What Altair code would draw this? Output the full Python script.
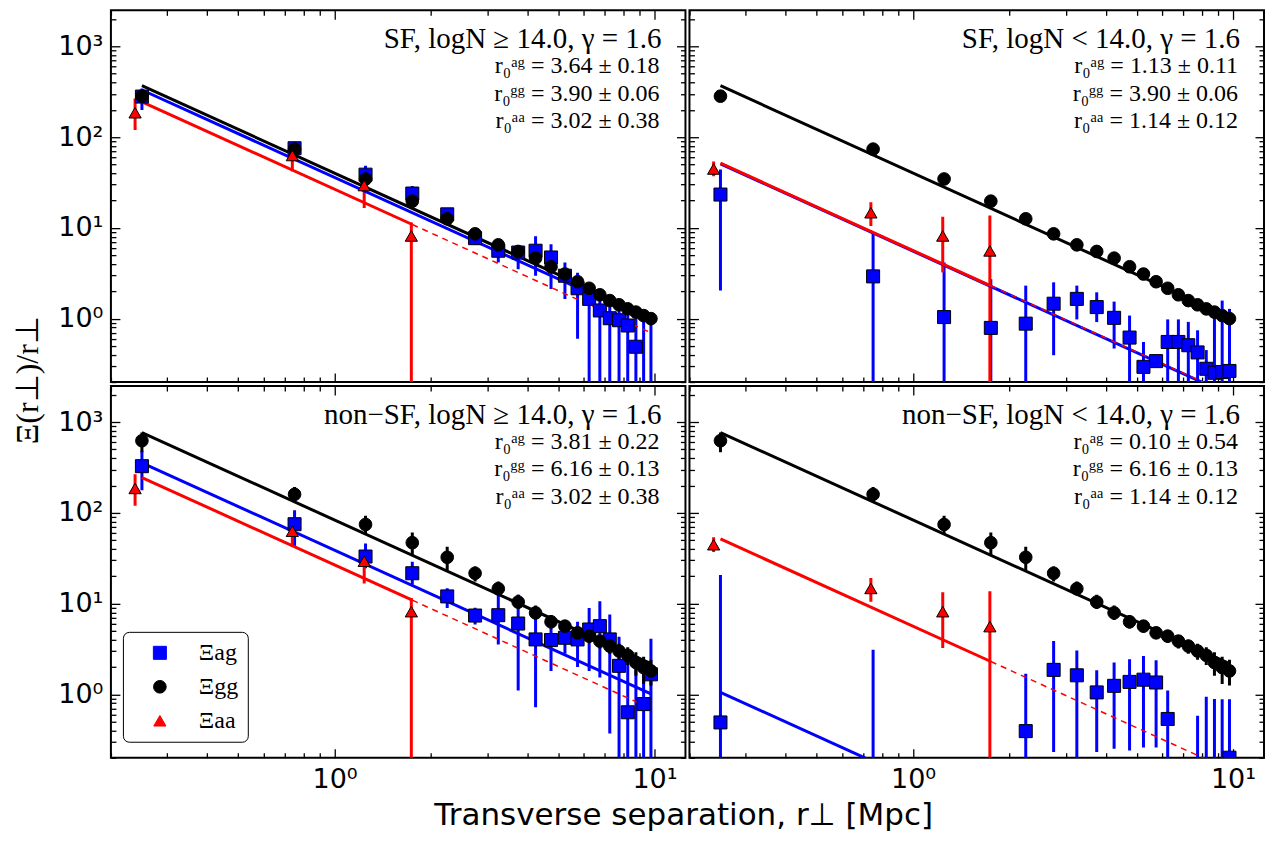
import altair as alt
import pandas as pd

# ---------------- data ----------------
SERIES = ["Ξag", "Ξgg", "Ξaa"]
COLORS = ["#0000ff", "#000000", "#ff0000"]
SHAPES = ["square", "circle", "triangle-up"]
SIZES = [170, 150, 190]

X = [0.25, 0.75, 1.25, 1.75, 2.25, 2.75, 3.25, 3.75, 4.25, 4.75,
     5.25, 5.75, 6.25, 6.75, 7.25, 7.75, 8.25, 8.75, 9.25, 9.75]
X_AA = [0.238, 0.738, 1.238, 1.738]

# galaxy-galaxy (SF sample, top row)
GG_SF_Y = [283, 73.8, 34.6, 19.7, 12.6, 8.6, 6.5, 5.5, 4.64, 3.73, 3.1, 2.55, 2.16, 1.83, 1.58, 1.42, 1.28, 1.18, 1.08, 1.0]
GG_SF_LO = [265, 69, 32.5, 18.5, 11.9, 8.1, 6.1, 5.15, 4.35, 3.5, 2.9, 2.38, 2.02, 1.71, 1.48, 1.33, 1.2, 1.1, 1.01, 0.93]
GG_SF_HI = [301, 78.6, 36.7, 20.9, 13.3, 9.1, 6.9, 5.85, 4.93, 3.96, 3.3, 2.72, 2.3, 1.95, 1.68, 1.51, 1.36, 1.26, 1.15, 1.07]

# galaxy-galaxy (non-SF sample, bottom row)
GG_NSF_Y = [624, 160, 74.5, 46.9, 32.4, 21.6, 14.6, 10.4, 7.9, 6.3, 5.64, 4.76, 4.38, 3.86, 3.4, 3.0, 2.69, 2.24, 1.97, 1.81]
GG_NSF_LO = [466, 132, 59.3, 34.3, 23.5, 17.5, 12.3, 8.7, 6.6, 5.3, 4.8, 4.1, 3.7, 3.2, 2.8, 2.4, 2.1, 1.6, 1.3, 1.25]
GG_NSF_HI = [771, 193, 92.7, 60.8, 42.4, 25.6, 17.5, 12.5, 9.5, 7.5, 6.5, 5.5, 5.0, 4.5, 4.0, 3.6, 3.3, 2.9, 2.6, 2.4]

# absorber-absorber
AA_HIGH_Y = [186, 62.8, 29.3, 8.15]
AA_HIGH_LO = [120, 42, 16.6, 0.01]
AA_HIGH_HI = [267, 82, 37, 11.5]
AA_LOW_Y = [44.6, 14.7, 8.15, 5.58]
AA_LOW_LO = [37, 10.5, 3.23, 0.01]
AA_LOW_HI = [54, 19.2, 13.3, 13.7]

# absorber-galaxy, one set per panel
AG_TL_Y = [280, 75.5, 38.6, 23.9, 14.1, 7.7, 5.6, 5.35, 5.6, 4.72, 2.97, 2.16, 1.65, 1.23, 1.01, 0.96, 0.84, 0.49, 0.1, 0.1]
AG_TL_LO = [199, 65, 31, 19, 12, 6.6, 4.16, 3.5, 2.97, 2.12, 1.65, 0.6, 0.01, 0.01, 0.01, 0.01, 0.01, 0.01, 0.01, 0.01]
AG_TL_HI = [343, 89, 48.5, 29, 16.5, 9, 7.5, 6.3, 8.1, 6.6, 4.16, 3.2, 2.31, 1.9, 1.7, 1.6, 1.5, 1.1, 1.0, 1.0]

AG_TR_Y = [23.3, 2.92, 1.04, 0.79, 0.88, 1.46, 1.65, 1.34, 1.02, 0.618, 0.294, 0.34, 0.553, 0.553, 0.509, 0.424, 0.28, 0.253, 0.258, 0.265]
AG_TR_LO = [2.04, 0.01, 0.01, 0.01, 0.01, 0.395, 0.98, 0.916, 0.468, 0.01, 0.01, 0.29, 0.01, 0.01, 0.01, 0.01, 0.01, 0.01, 0.01, 0.01]
AG_TR_HI = [43.9, 8.87, 4.16, 2.72, 2.31, 2.51, 2.31, 1.95, 1.54, 1.08, 0.553, 0.4, 0.98, 0.98, 0.92, 0.743, 0.45, 1.08, 1.58, 1.28]

AG_BL_Y = [327, 75, 33, 21.6, 12.0, 7.38, 7.45, 6.03, 4.03, 3.96, 4.2, 4.03, 5.18, 5.64, 4.03, 2.06, 0.634, 0.1, 0.78, 1.66]
AG_BL_LO = [177, 42.4, 24.5, 16.1, 8.95, 5.9, 3.55, 1.1, 0.72, 1.81, 2.8, 2.0, 1.81, 1.53, 0.37, 0.01, 0.01, 0.01, 0.01, 0.01]
AG_BL_HI = [485, 107, 46, 29, 14.8, 9, 13.6, 12.5, 8.2, 6.7, 5.4, 6.3, 8.95, 10.6, 7.6, 4.3, 2.6, 2.5, 1.9, 4.1]

AG_BR_Y = [0.49, 0.1, None, None, 0.393, 1.86, 1.62, 1.05, 1.24, 1.37, 1.45, 1.35, 0.535, None, None, 0.1, 0.1, 0.1, 0.1, 0.2]
AG_BR_LO = [0.01, 0.01, None, None, 0.01, 0.231, 0.01, 0.231, 0.251, 0.24, 0.26, 0.26, 0.01, None, None, 0.01, 0.01, 0.01, 0.01, 0.01]
AG_BR_HI = [20.7, 3.1, None, None, 1.69, 3.86, 3.05, 1.84, 2.24, 2.43, 2.65, 2.37, 1.1, None, None, 0.58, 0.94, 0.89, 0.88, 0.88]

# power-law fits: values at r = 0.25 and 9.75 (aa also at 1.75, where solid turns dashed)
FIT_X = [0.25, 9.75]
FIT_AA_X = [0.25, 1.75, 9.75]
FIT_TL_AG = [331, 0.941]
FIT_TL_GG = [369, 1.05]
FIT_TL_AA = [245, 10.9, 0.698]
FIT_TR_AG = [50.9, 0.145]
FIT_TR_GG = [369, 1.05]
FIT_TR_AA = [51.6, 2.30, 0.147]
FIT_BL_AG = [356, 1.01]
FIT_BL_GG = [767, 2.18]
FIT_BL_AA = [245, 10.9, 0.698]
FIT_BR_AG = [1.05, 0.003]
FIT_BR_GG = [767, 2.18]
FIT_BR_AA = [51.6, 2.30, 0.147]

TITLES = ["SF, logN ≥ 14.0, γ = 1.6", "SF, logN < 14.0, γ = 1.6",
          "non−SF, logN ≥ 14.0, γ = 1.6", "non−SF, logN < 14.0, γ = 1.6"]
R0_PREFIX = ["r₀ᵃᵍ = ", "r₀ᵍᵍ = ", "r₀ᵃᵃ = "]
R0_TL = ["3.64 ± 0.18", "3.90 ± 0.06", "3.02 ± 0.38"]
R0_TR = ["1.13 ± 0.11", "3.90 ± 0.06", "1.14 ± 0.12"]
R0_BL = ["3.81 ± 0.22", "6.16 ± 0.13", "3.02 ± 0.38"]
R0_BR = ["0.10 ± 0.54", "6.16 ± 0.13", "1.14 ± 0.12"]

X_MAJOR = [1, 10]
X_MINOR = [0.2, 0.3, 0.4, 0.5, 0.6, 0.7, 0.8, 0.9, 2, 3, 4, 5, 6, 7, 8, 9]
Y_MAJOR = [1, 10, 100, 1000]
Y_MINOR = [0.2, 0.3, 0.4, 0.5, 0.6, 0.7, 0.8, 0.9, 2, 3, 4, 5, 6, 7, 8, 9,
           20, 30, 40, 50, 60, 70, 80, 90, 200, 300, 400, 500, 600, 700, 800, 900, 2000]
X_TITLE = "Transverse separation, r⊥ [Mpc]"
Y_TITLE = "Ξ(r⊥)/r⊥"

# ---------------- chart ----------------
W, H = 575, 372
XS = alt.Scale(type="log", domain=[0.2, 12.5], nice=False)
YS = alt.Scale(type="log", domain=[0.2, 2500], nice=False)
CS = alt.Scale(domain=SERIES, range=COLORS)
SS = alt.Scale(domain=SERIES, range=SHAPES)
ZS = alt.Scale(domain=SERIES, range=SIZES)
LABEL_EXPR = ("datum.value == 1 ? '10⁰' : datum.value == 10 ? '10¹' : "
              "datum.value == 100 ? '10²' : '10³'")


def axis(orient, values, size, labels):
    kw = dict(orient=orient, values=values, tickSize=size, offset=-size,
              domain=False, grid=False, ticks=True, tickColor="black",
              tickWidth=1.3, title=None, labels=labels)
    if labels:
        kw.update(labelExpr=LABEL_EXPR, labelFont="DejaVu Sans", labelFontSize=27,
                  labelColor="black", labelFlush=False, labelOverlap=False,
                  labelPadding=8 if orient == "left" else 9)
    return alt.Axis(**kw)


def points_df(ag, gg, aa):
    rows = []
    for name, xs, (ys, los, his) in [("Ξag", X, ag), ("Ξgg", X, gg), ("Ξaa", X_AA, aa)]:
        for x, y, lo, hi in zip(xs, ys, los, his):
            rows.append(dict(series=name, x=x, y=y, lo=lo, hi=hi))
    return pd.DataFrame(rows)


def line_df(name, xs, ys):
    return pd.DataFrame({"series": [name] * len(xs), "x": xs, "y": ys})


def panel(ag, gg, aa, fit_ag, fit_gg, fit_aa, title, r0, xlabels, ylabels, legend):
    pts = points_df(ag, gg, aa)
    bars = pts.dropna(subset=["lo", "hi"])
    marks = pts.dropna(subset=["y"])
    if legend:
        leg = alt.Legend(orient="none", legendX=12, legendY=246, title=None,
                         strokeColor="black", cornerRadius=6, fillColor="white", padding=9,
                         labelFont="Liberation Serif", labelFontSize=24, labelColor="black",
                         symbolSize=170, symbolStrokeColor="black", symbolStrokeWidth=1,
                         rowPadding=10, symbolOffset=16, labelOffset=27)
    else:
        leg = None
    col = alt.Color("series:N", scale=CS, legend=leg)

    rules = alt.Chart(bars).mark_rule(strokeWidth=3, clip=True).encode(
        x=alt.X("x:Q", scale=XS, axis=axis("bottom", X_MAJOR, 9, xlabels)),
        y=alt.Y("lo:Q", scale=YS, axis=axis("left", Y_MAJOR, 9, ylabels)),
        y2="hi:Q", color=col)

    l_ag = alt.Chart(line_df("Ξag", FIT_X, fit_ag)).mark_line(strokeWidth=3, clip=True).encode(
        x=alt.X("x:Q", scale=XS, axis=axis("bottom", X_MINOR, 5, False)),
        y=alt.Y("y:Q", scale=YS, axis=axis("left", Y_MINOR, 5, False)), color=col)
    l_gg = alt.Chart(line_df("Ξgg", FIT_X, fit_gg)).mark_line(strokeWidth=3, clip=True).encode(
        x=alt.X("x:Q", scale=XS, axis=axis("top", X_MAJOR, 9, False)),
        y=alt.Y("y:Q", scale=YS, axis=axis("right", Y_MAJOR, 9, False)), color=col)
    l_aa = alt.Chart(line_df("Ξaa", FIT_AA_X[:2], fit_aa[:2])).mark_line(strokeWidth=3, clip=True).encode(
        x=alt.X("x:Q", scale=XS, axis=axis("top", X_MINOR, 5, False)),
        y=alt.Y("y:Q", scale=YS, axis=axis("right", Y_MINOR, 5, False)), color=col)
    l_aad = alt.Chart(line_df("Ξaa", FIT_AA_X[1:], fit_aa[1:])).mark_line(
        strokeWidth=1.5, strokeDash=[6, 5], clip=True).encode(
        x=alt.X("x:Q", scale=XS, axis=None),
        y=alt.Y("y:Q", scale=YS, axis=None), color=col)

    points = alt.Chart(marks).mark_point(filled=True, opacity=1, stroke="black",
                                         strokeWidth=1, clip=True).encode(
        x=alt.X("x:Q", scale=XS, axis=None),
        y=alt.Y("y:Q", scale=YS, axis=None),
        color=col,
        shape=alt.Shape("series:N", scale=SS, legend=leg),
        size=alt.Size("series:N", scale=ZS, legend=None))

    texts = [alt.Chart(pd.DataFrame({"t": [title]})).mark_text(
        align="right", baseline="middle", font="Liberation Serif", fontSize=29,
        color="black").encode(text="t:N", x=alt.value(W - 24), y=alt.value(29))]
    for i, (p, v) in enumerate(zip(R0_PREFIX, r0)):
        texts.append(alt.Chart(pd.DataFrame({"t": [p + v]})).mark_text(
            align="right", baseline="middle", font="Liberation Serif", fontSize=24,
            color="black").encode(text="t:N", x=alt.value(W - 26), y=alt.value(56 + 27.5 * i)))

    return alt.layer(rules, l_ag, l_gg, l_aa, l_aad, points, *texts).resolve_axis(
        x="independent", y="independent").properties(width=W, height=H)


tl = panel((AG_TL_Y, AG_TL_LO, AG_TL_HI), (GG_SF_Y, GG_SF_LO, GG_SF_HI),
           (AA_HIGH_Y, AA_HIGH_LO, AA_HIGH_HI), FIT_TL_AG, FIT_TL_GG, FIT_TL_AA,
           TITLES[0], R0_TL, False, True, False)
tr = panel((AG_TR_Y, AG_TR_LO, AG_TR_HI), (GG_SF_Y, GG_SF_LO, GG_SF_HI),
           (AA_LOW_Y, AA_LOW_LO, AA_LOW_HI), FIT_TR_AG, FIT_TR_GG, FIT_TR_AA,
           TITLES[1], R0_TR, False, False, False)
bl = panel((AG_BL_Y, AG_BL_LO, AG_BL_HI), (GG_NSF_Y, GG_NSF_LO, GG_NSF_HI),
           (AA_HIGH_Y, AA_HIGH_LO, AA_HIGH_HI), FIT_BL_AG, FIT_BL_GG, FIT_BL_AA,
           TITLES[2], R0_BL, True, True, True)
br = panel((AG_BR_Y, AG_BR_LO, AG_BR_HI), (GG_NSF_Y, GG_NSF_LO, GG_NSF_HI),
           (AA_LOW_Y, AA_LOW_LO, AA_LOW_HI), FIT_BR_AG, FIT_BR_GG, FIT_BR_AA,
           TITLES[3], R0_BR, True, False, False)

IND = dict(color="independent", shape="independent", size="independent")
row1 = alt.hconcat(tl, tr, spacing=0).resolve_scale(**IND)
row2 = alt.hconcat(bl, br, spacing=0).resolve_scale(**IND)
grid = alt.vconcat(row1, row2, spacing=0,
                   title=alt.TitleParams(Y_TITLE, orient="left", anchor="middle",
                                         font="Liberation Serif", fontSize=32,
                                         fontWeight="normal", color="black",
                                         offset=12, dx=21)).resolve_scale(**IND)
chart = alt.vconcat(grid, spacing=0,
                    title=alt.TitleParams(X_TITLE, orient="bottom", anchor="middle",
                                          font="DejaVu Sans", fontSize=31,
                                          fontWeight="normal", color="black",
                                          offset=7, dx=45)).resolve_scale(**IND)
chart = chart.properties(padding={"left": 3, "top": 0, "right": 0, "bottom": 0}).configure_view(
    stroke="black", strokeWidth=2)

chart.save("out.html", embed_options={"renderer": "svg", "actions": False})
